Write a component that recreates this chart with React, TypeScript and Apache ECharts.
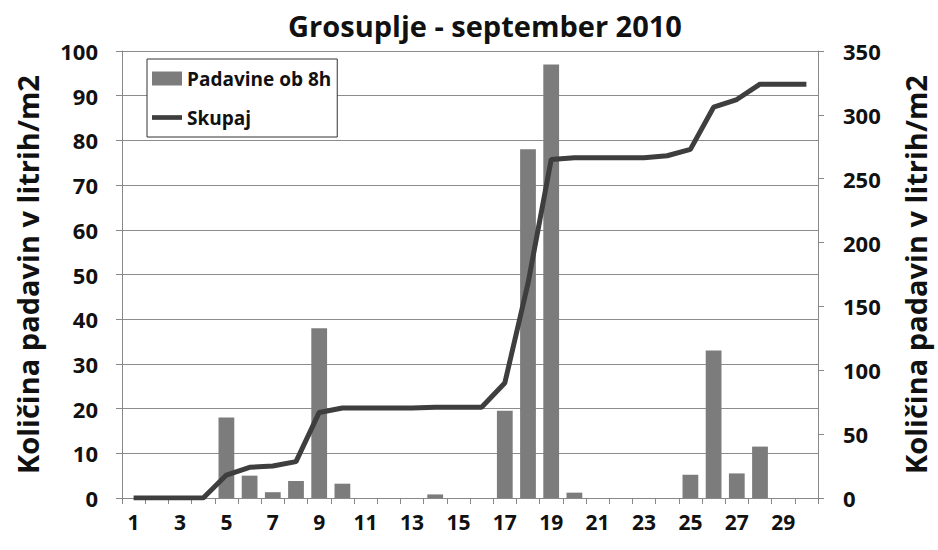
import React, { useEffect, useRef } from "react";
import * as echarts from "echarts";

const days = Array.from({ length: 30 }, (_, i) => String(i + 1));
const dailyRain = [0, 0, 0, 0, 18, 5, 1.3, 3.8, 38, 3.2, 0, 0, 0, 0.8, 0, 0, 19.5, 78, 97, 1.2, 0, 0, 0, 0, 5.2, 33, 5.5, 11.5, 0, 0];
const cumulative = [0, 0, 0, 0, 18, 24, 25, 28.5, 67, 70.5, 70.5, 70.5, 70.5, 71, 71, 71, 90, 168, 265, 266.5, 266.5, 266.5, 266.5, 268, 273, 306, 312, 324, 324, 324];
const titleText = "Grosuplje - september 2010";
const axisName = "Količina padavin v litrih/m2";
const seriesNames = ["Padavine ob 8h", "Skupaj"];

const FONT = "'Open Sans', sans-serif";

export default function App() {
  const ref = useRef<HTMLDivElement>(null);
  useEffect(() => {
    if (!ref.current) return;
    const chart = echarts.init(ref.current, null, { renderer: "svg" });
    chart.setOption({
      animation: false,
      backgroundColor: "#ffffff",
      textStyle: { fontFamily: FONT },
      title: {
        text: titleText,
        left: 480,
        top: 6,
        textAlign: "center",
        textStyle: { fontFamily: FONT, fontWeight: "bold", fontSize: 29, color: "#111" },
      },
      legend: {
        orient: "vertical",
        left: 147,
        top: 59,
        padding: [10, 6, 10, 5],
        itemGap: 20,
        itemWidth: 30,
        itemHeight: 14,
        borderColor: "#333",
        borderWidth: 1,
        backgroundColor: "#fff",
        textStyle: { fontFamily: FONT, fontWeight: "bold", fontSize: 19, color: "#111" },
        data: [
          { name: seriesNames[0], icon: "rect" },
          { name: seriesNames[1], icon: "path://M0,0L32,0L32,5L0,5Z" },
        ],
      },
      grid: { left: 122, right: 110, top: 51, bottom: 52, containLabel: false },
      xAxis: {
        type: "category",
        data: days,
        boundaryGap: true,
        axisLine: { lineStyle: { color: "#888", width: 1 } },
        axisTick: { show: true, interval: 0, length: 6, lineStyle: { color: "#888" } },
        axisLabel: { interval: 1, margin: 13, fontFamily: FONT, fontWeight: "bold", fontSize: 21, color: "#111" },
      },
      yAxis: [
        {
          type: "value",
          min: 0,
          max: 100,
          interval: 10,
          name: axisName,
          nameLocation: "middle",
          nameRotate: 90,
          nameGap: 80,
          nameTextStyle: { fontFamily: FONT, fontWeight: "bold", fontSize: 29, color: "#111" },
          axisLine: { show: true, lineStyle: { color: "#888" } },
          axisTick: { show: true, length: 6, lineStyle: { color: "#888" } },
          axisLabel: { margin: 24, fontFamily: FONT, fontWeight: "bold", fontSize: 22, color: "#111" },
          splitLine: { show: true, lineStyle: { color: "#8c8c8c", width: 1 } },
        },
        {
          type: "value",
          min: 0,
          max: 350,
          interval: 50,
          position: "right",
          name: axisName,
          nameLocation: "middle",
          nameRotate: 90,
          nameGap: 83,
          nameTextStyle: { fontFamily: FONT, fontWeight: "bold", fontSize: 29, color: "#111" },
          axisLine: { show: true, lineStyle: { color: "#888" } },
          axisTick: { show: true, length: 6, lineStyle: { color: "#888" } },
          axisLabel: { margin: 25, fontFamily: FONT, fontWeight: "bold", fontSize: 22, color: "#111" },
          splitLine: { show: false },
        },
      ],
      series: [
        {
          name: seriesNames[0],
          type: "bar",
          yAxisIndex: 0,
          data: dailyRain,
          barWidth: "68%",
          itemStyle: { color: "#7c7c7c" },
        },
        {
          name: seriesNames[1],
          type: "line",
          yAxisIndex: 1,
          data: cumulative,
          symbol: "none",
          lineStyle: { color: "#3e3e3e", width: 5 },
          itemStyle: { color: "#3e3e3e" },
        },
      ],
    });
    return () => chart.dispose();
  }, []);
  return <div ref={ref} style={{ width: 938, height: 550, position: "absolute", left: 0, top: 0 }} />;
}
